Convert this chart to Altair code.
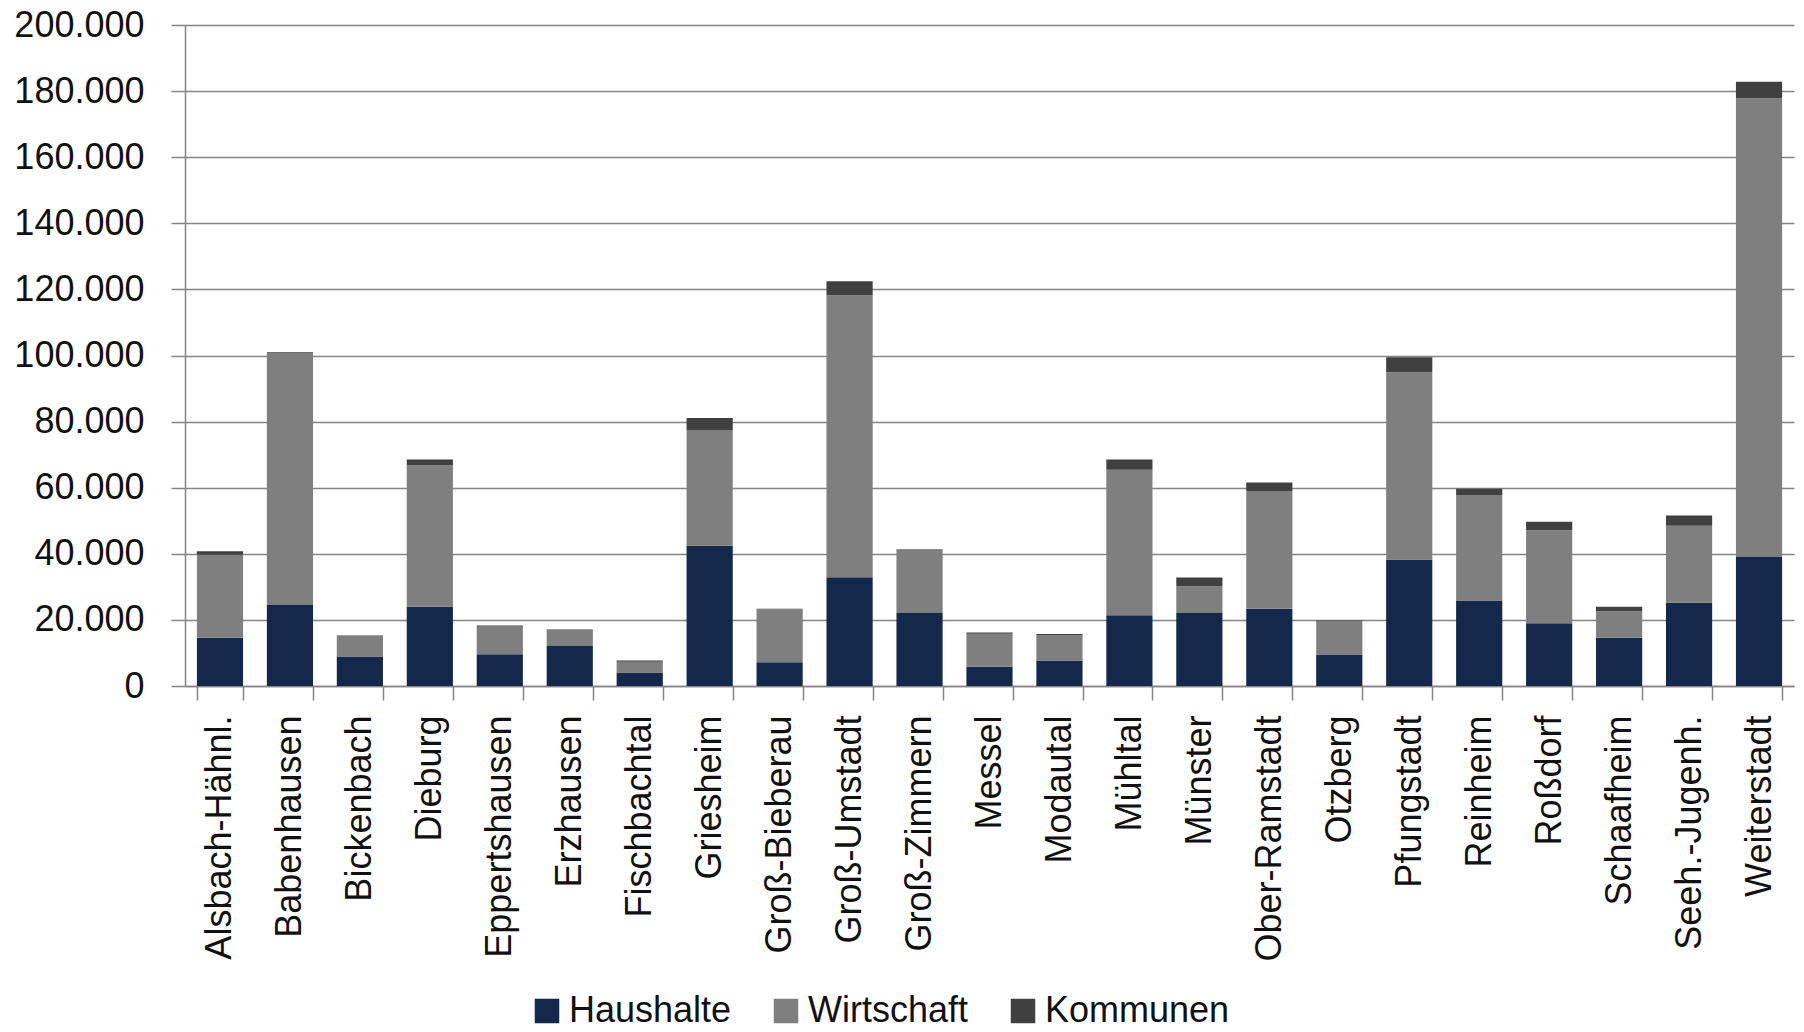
import altair as alt
import pandas as pd

# Gemeinden (x-axis categories, in display order)
gemeinden = [
    "Alsbach-Hähnl.", "Babenhausen", "Bickenbach", "Dieburg", "Eppertshausen",
    "Erzhausen", "Fischbachtal", "Griesheim", "Groß-Bieberau", "Groß-Umstadt",
    "Groß-Zimmern", "Messel", "Modautal", "Mühltal", "Münster", "Ober-Ramstadt",
    "Otzberg", "Pfungstadt", "Reinheim", "Roßdorf", "Schaafheim",
    "Seeh.-Jugenh.", "Weiterstadt",
]

# Stacked segment values per sector
haushalte = [14600, 24500, 8900, 24000, 9600, 12100, 4100, 42400, 7200, 32900,
             22100, 5800, 7700, 21400, 22100, 23400, 9500, 38300, 25900, 19000,
             14600, 25200, 39000]
wirtschaft = [25100, 76100, 6100, 42800, 8400, 4700, 3200, 34900, 16000, 85300,
              19100, 10000, 7600, 44000, 8100, 35600, 10300, 56600, 31900, 28100,
              8000, 23300, 138800]
kommunen = [1100, 400, 300, 1700, 300, 300, 400, 3800, 200, 4300,
            200, 400, 400, 3100, 2600, 2600, 200, 4600, 1900, 2600,
            1400, 3100, 5000]

sektoren = ["Haushalte", "Wirtschaft", "Kommunen"]
farben = ["#13284b", "#7f7f7f", "#404040"]
y_ticks = list(range(0, 200001, 20000))

rows = []
for i, g in enumerate(gemeinden):
    for k, (s, vals) in enumerate(zip(sektoren, [haushalte, wirtschaft, kommunen])):
        rows.append({"Gemeinde": g, "Sektor": s, "Wert": vals[i], "Reihenfolge": k})
df = pd.DataFrame(rows)

FONT = "Liberation Sans, Arial, sans-serif"
FS = 36
AXIS_GRAY = "#858585"

chart = (
    alt.Chart(df)
    .mark_bar()
    .encode(
        x=alt.X(
            "Gemeinde:N",
            sort=gemeinden,
            scale=alt.Scale(paddingInner=0.34, paddingOuter=0.17),
            axis=alt.Axis(
                title=None,
                labelAngle=-90,
                labelFont=FONT,
                labelFontSize=FS,
                labelColor="#111111",
                labelPadding=15,
                labelLimit=0,
                tickBand="extent",
                tickSize=14,
                tickColor=AXIS_GRAY,
                tickWidth=1.5,
                domainColor=AXIS_GRAY,
                domainWidth=1.5,
                grid=False,
            ),
        ),
        y=alt.Y(
            "Wert:Q",
            stack="zero",
            scale=alt.Scale(domain=[0, 200000], nice=False),
            axis=alt.Axis(
                title=None,
                values=y_ticks,
                labelExpr="replace(format(datum.value, ','), regexp(',', 'g'), '.')",
                labelFont=FONT,
                labelFontSize=FS,
                labelColor="#111111",
                labelPadding=27,
                labelLimit=0,
                tickSize=14,
                tickColor=AXIS_GRAY,
                tickWidth=1.5,
                domainColor=AXIS_GRAY,
                domainWidth=1.5,
                grid=True,
                gridColor=AXIS_GRAY,
                gridWidth=1.5,
            ),
        ),
        color=alt.Color(
            "Sektor:N",
            scale=alt.Scale(domain=sektoren, range=farben),
            legend=alt.Legend(
                title=None,
                orient="none",
                direction="horizontal",
                legendX=344,
                legendY=968,
                symbolType="square",
                symbolSize=600,
                symbolStrokeWidth=0,
                labelFont=FONT,
                labelFontSize=FS,
                labelColor="#111111",
                labelOffset=4,
                labelLimit=0,
                columnPadding=36,
            ),
        ),
        order=alt.Order("Reihenfolge:Q", sort="ascending"),
    )
    .properties(
        width=1609,
        height=661,
        padding={"left": 185, "top": 25, "right": 10, "bottom": 346},
        autosize=alt.AutoSizeParams(type="none"),
        background="white",
    )
    .configure_view(stroke=None)
)

chart.save("out.html", embed_options={"renderer": "svg", "actions": False})
